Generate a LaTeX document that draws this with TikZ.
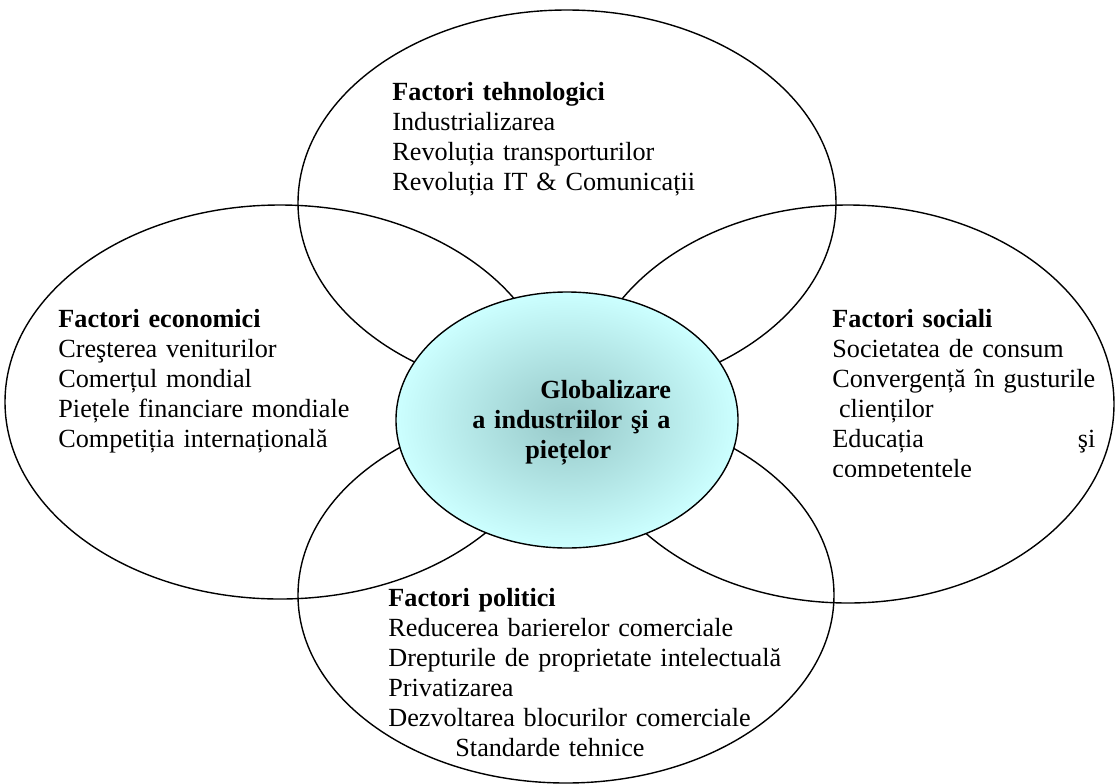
\documentclass[tikz,border=0pt]{standalone}
\usepackage{fontspec}
\setmainfont{Liberation Serif}
\usetikzlibrary{shapes.geometric}

\definecolor{globin}{RGB}{150,200,200}
\definecolor{globout}{RGB}{204,255,255}

\tikzset{
	factor/.style={ellipse, draw, line width=0.7pt, inner sep=0pt},
	listtext/.style={anchor=base west, inner sep=0pt, align=left, text width=#1,
		font=\fontsize{13.1}{15}\selectfont},
}

\begin{document}
\begin{tikzpicture}[x=0.5pt, y=-0.5pt]
	\useasboundingbox (0,0) rectangle (1115,783);
	
	% Factor ellipses
	\node[factor, minimum width=269pt, minimum height=193pt] (tech) at (567,203) {};
	\node[factor, minimum width=275pt, minimum height=197pt] (econ) at (280,402) {};
	\node[factor, minimum width=266pt, minimum height=199pt] (soc) at (848,404) {};
	\node[factor, minimum width=268pt, minimum height=188pt] (pol) at (566,595) {};
	
	% Centre
	\node[factor, inner color=globin, outer color=globout,
		minimum width=171pt, minimum height=128pt] (glob) at (567,420) {};
	\node[listtext=120pt, font=\fontsize{13.1}{15}\selectfont\bfseries] (globtxt) at (472,398)
		{\hspace*{34pt}Globalizare\\ a industriilor şi a\\ \hspace*{26.5pt}piețelor};
	
	% Texts
	\node[listtext=160pt] (techtxt) at (392,100)
		{\textbf{Factori tehnologici}\\ Industrializarea\\ Revoluția transporturilor\\ Revoluția IT \& Comunicații};
	\node[listtext=160pt] (econtxt) at (58,327)
		{\textbf{Factori economici}\\ Creşterea veniturilor\\ Comerțul mondial\\ Piețele financiare mondiale\\ Competiția internațională};
	\node[listtext=220pt] (poltxt) at (388,606)
		{\textbf{Factori politici}\\ Reducerea barierelor comerciale\\ Drepturile de proprietate intelectuală\\ Privatizarea\\ Dezvoltarea blocurilor comerciale\\ \hspace*{33.5pt}Standarde tehnice};
	\begin{scope}
		\clip (600,290) rectangle (1115,476);
		\node[listtext=160pt] (soctxt) at (832,327)
			{\textbf{Factori sociali}\\ Societatea de consum\\ Convergență în gusturile\\ \hspace*{3.3pt}clienților\\ \makebox[131.5pt][l]{Educația\hfill şi}\\ competentele};
	\end{scope}
\end{tikzpicture}
\end{document}
